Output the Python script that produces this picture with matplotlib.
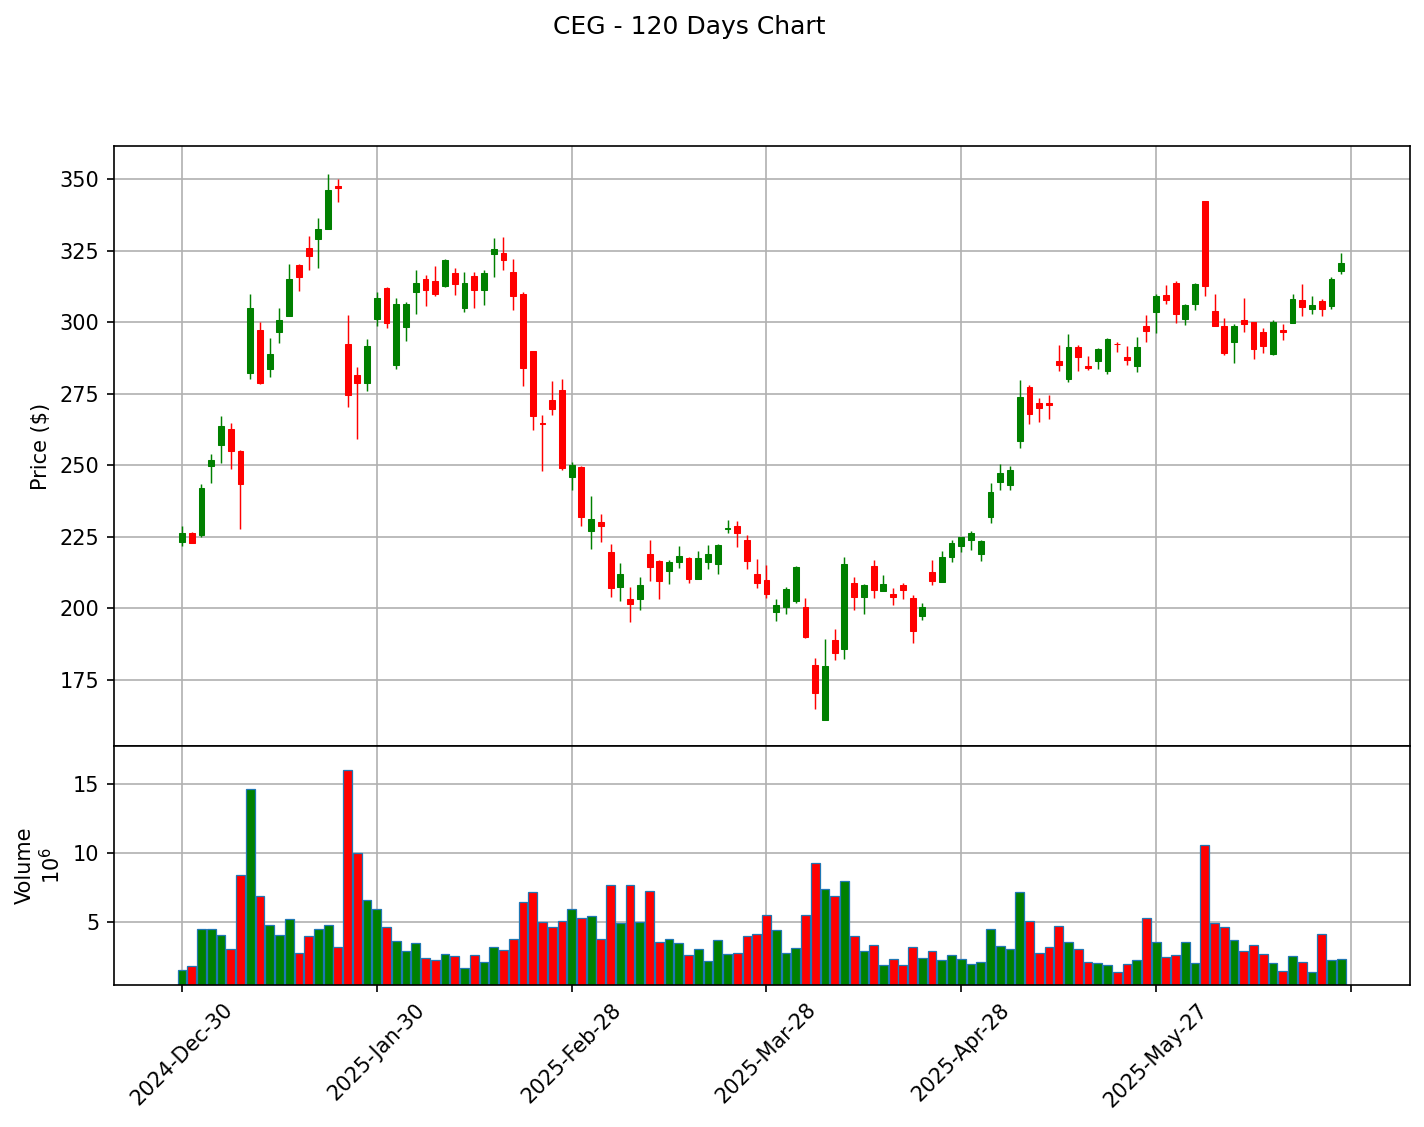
import numpy as np
import matplotlib
matplotlib.use("Agg")
import matplotlib.pyplot as plt

title = "CEG - 120 Days Chart"
tick_labels = ["2024-Dec-30", "2025-Jan-30", "2025-Feb-28", "2025-Mar-28",
               "2025-Apr-28", "2025-May-27", ""]

opens = [223.3, 226.2, 225.8, 249.9, 257.1, 262.8, 255.0, 282.4, 297.3, 283.8,
         296.7, 302.3, 320.0, 325.9, 328.9, 332.7, 347.6, 292.4, 281.5, 278.9,
         301.0, 312.0, 285.0, 298.2, 310.5, 315.2, 314.5, 312.6, 317.3, 305.1,
         316.2, 311.1, 323.7, 324.1, 317.6, 309.9, 289.9, 264.8, 272.7, 276.2,
         245.9, 249.3, 226.9, 230.3, 219.8, 207.5, 203.3, 203.4, 219.1, 216.6,
         213.2, 216.4, 217.6, 210.4, 216.4, 215.4, 227.7, 228.9, 223.8, 211.9,
         209.8, 198.8, 200.5, 202.6, 200.4, 180.1, 161.1, 188.9, 186.0, 208.8,
         204.0, 214.7, 206.1, 205.0, 208.1, 203.6, 197.5, 212.9, 209.3, 217.8,
         221.9, 224.0, 219.0, 232.0, 244.0, 243.0, 258.6, 277.2, 271.6, 271.9,
         286.4, 280.2, 291.2, 284.6, 286.3, 283.0, 292.5, 288.0, 284.7, 298.6,
         303.6, 309.4, 313.7, 301.1, 306.4, 342.3, 303.8, 298.8, 292.9, 300.6,
         299.9, 296.7, 289.0, 297.1, 299.7, 307.7, 304.6, 307.3, 305.7, 317.7]
highs = [228.9, 226.8, 243.4, 253.8, 267.3, 264.7, 255.5, 309.7, 300.2, 294.4,
         304.8, 320.2, 320.2, 330.0, 336.3, 351.6, 349.9, 302.5, 284.2, 294.0,
         310.4, 312.2, 308.3, 307.0, 318.1, 316.5, 319.5, 322.1, 318.9, 317.5,
         317.5, 318.2, 329.4, 329.8, 322.1, 310.6, 290.0, 267.6, 279.6, 280.2,
         251.1, 249.6, 239.2, 233.0, 222.5, 215.8, 207.6, 211.1, 223.9, 216.8,
         217.1, 221.8, 217.8, 220.0, 222.1, 222.4, 230.9, 230.4, 225.8, 217.4,
         215.3, 203.4, 207.6, 215.0, 203.7, 182.8, 189.5, 193.0, 217.8, 211.1,
         208.4, 217.1, 211.8, 207.2, 208.8, 204.6, 202.0, 217.1, 219.9, 223.8,
         225.0, 227.1, 223.8, 243.7, 250.3, 249.8, 279.7, 278.1, 273.6, 274.6,
         291.9, 296.0, 291.9, 288.2, 290.9, 294.3, 293.1, 291.7, 294.9, 302.4,
         310.0, 312.9, 314.5, 306.3, 313.6, 342.4, 310.0, 301.5, 299.4, 308.6,
         300.0, 298.0, 300.8, 299.4, 309.7, 313.2, 309.3, 308.0, 315.7, 324.2]
lows = [221.9, 222.7, 224.8, 243.8, 250.9, 248.8, 227.9, 280.0, 278.5, 281.0,
        292.8, 302.0, 310.9, 318.2, 318.8, 332.5, 341.9, 270.4, 259.3, 276.0,
        298.8, 297.9, 283.8, 293.4, 302.8, 305.7, 309.1, 312.4, 309.6, 303.5,
        304.9, 305.9, 315.8, 318.2, 304.2, 277.6, 262.5, 248.1, 267.7, 248.4,
        241.4, 228.9, 220.7, 223.2, 204.1, 202.6, 195.2, 199.3, 209.5, 203.2,
        208.4, 214.0, 208.8, 210.2, 213.7, 211.9, 226.3, 221.5, 213.9, 207.3,
        203.8, 195.5, 198.0, 202.0, 189.6, 165.0, 160.9, 181.9, 182.5, 199.4,
        198.0, 203.8, 206.0, 201.3, 203.4, 187.8, 195.9, 208.1, 209.1, 216.3,
        219.8, 220.4, 216.5, 230.0, 241.3, 241.3, 255.9, 264.6, 265.1, 266.1,
        283.0, 279.2, 282.9, 283.2, 283.8, 281.8, 289.5, 285.0, 282.5, 293.0,
        296.3, 306.4, 299.7, 299.1, 304.4, 309.3, 298.6, 288.6, 285.6, 296.6,
        287.0, 289.2, 288.5, 293.8, 299.6, 302.2, 303.0, 302.2, 304.5, 316.7]
closes = [226.2, 223.0, 242.2, 251.7, 263.6, 255.0, 243.3, 305.0, 278.9, 288.9,
          300.8, 315.1, 315.9, 323.2, 332.5, 346.2, 347.0, 274.7, 278.6, 291.7,
          308.4, 299.8, 306.4, 306.4, 313.8, 311.4, 309.7, 321.8, 313.3, 313.8,
          311.4, 317.3, 325.7, 321.6, 309.3, 284.0, 267.2, 264.3, 269.7, 249.2,
          250.2, 231.8, 231.2, 228.7, 207.3, 211.9, 201.6, 208.2, 214.6, 209.5,
          216.3, 218.4, 210.4, 217.6, 219.1, 222.2, 228.1, 226.3, 216.6, 208.9,
          205.1, 201.3, 206.7, 214.4, 190.0, 170.5, 179.9, 184.4, 215.4, 204.0,
          208.1, 206.6, 208.4, 204.0, 206.4, 192.1, 200.6, 209.6, 217.8, 222.7,
          224.8, 226.2, 223.5, 240.6, 247.2, 248.3, 273.8, 267.8, 270.1, 271.1,
          285.1, 291.2, 287.9, 283.9, 290.8, 294.1, 292.2, 286.7, 291.2, 297.0,
          309.1, 307.8, 303.0, 305.9, 313.3, 312.7, 298.8, 289.2, 298.5, 299.4,
          290.6, 291.5, 300.2, 296.5, 308.0, 305.3, 306.1, 304.6, 315.2, 320.8]
volumes_m = [1.57, 1.83, 4.52, 4.52, 4.09, 3.08, 8.41, 14.66, 6.89, 4.81,
             4.09, 5.24, 2.79, 4.02, 4.52, 4.81, 3.23, 16.03, 9.99, 6.61,
             5.96, 4.66, 3.66, 2.94, 3.51, 2.43, 2.29, 2.72, 2.58, 1.71,
             2.65, 2.15, 3.23, 3.01, 3.80, 6.46, 7.18, 5.02, 4.66, 5.10,
             5.96, 5.31, 5.48, 3.80, 7.69, 4.98, 7.69, 5.02, 7.25, 3.59,
             3.80, 3.54, 2.65, 3.08, 2.22, 3.73, 2.72, 2.79, 4.02, 4.16,
             5.53, 4.45, 2.79, 3.15, 5.53, 9.32, 7.40, 6.89, 7.97, 4.02,
             2.94, 3.37, 1.93, 2.36, 1.93, 3.23, 2.43, 2.94, 2.29, 2.65,
             2.36, 2.00, 2.15, 4.52, 3.30, 3.08, 7.18, 5.10, 2.79, 3.23,
             4.74, 3.59, 3.08, 2.15, 2.07, 1.93, 1.43, 2.00, 2.29, 5.31,
             3.59, 2.51, 2.65, 3.59, 2.07, 10.61, 4.95, 4.66, 3.73, 2.94,
             3.37, 2.72, 2.07, 1.50, 2.58, 2.15, 1.43, 4.16, 2.29, 2.36]

o = np.array(opens)
h = np.array(highs)
l = np.array(lows)
c = np.array(closes)
v = np.array(volumes_m)
x = np.arange(len(o))
colors = np.where(c >= o, "green", "red")

W, H, DPI = 1424, 1127, 150
fig = plt.figure(figsize=(W / DPI, H / DPI), dpi=DPI)
left, right = 114 / W, 1410 / W
ax = fig.add_axes([left, 1 - 746 / H, right - left, (746 - 146) / H])
axv = fig.add_axes([left, 1 - 985 / H, right - left, (985 - 746) / H], sharex=ax)

for a in (ax, axv):
    a.set_axisbelow(True)
    a.grid(True, color="#b0b0b0", linewidth=0.8)

ax.vlines(x, l, h, colors=colors, linewidth=0.7)
body = np.abs(c - o)
ax.bar(x, np.maximum(body, 0.15), bottom=np.minimum(o, c), width=0.6,
       color=colors, edgecolor=colors, linewidth=0.5)
ax.set_ylim(151.96, 361.53)
ax.set_ylabel("Price ($)")
ax.tick_params(axis="x", bottom=False, labelbottom=False)

axv.bar(x, v, width=0.9, color=colors, edgecolor="#1f77b4", linewidth=0.6)
axv.set_ylim(0.49, 17.73)
axv.set_yticks([5, 10, 15])
axv.set_ylabel("Volume\n$10^{6}$")

ticks = np.arange(0, 121, 20)
axv.set_xticks(ticks)
axv.set_xticklabels(tick_labels, rotation=45, ha="center")
axv.set_xlim(-6.98, 126.06)

fig.text(0.484, 1 - 34.3 / H, title, ha="center", va="baseline", fontsize=12)

fig.savefig("out.png", dpi=DPI)
